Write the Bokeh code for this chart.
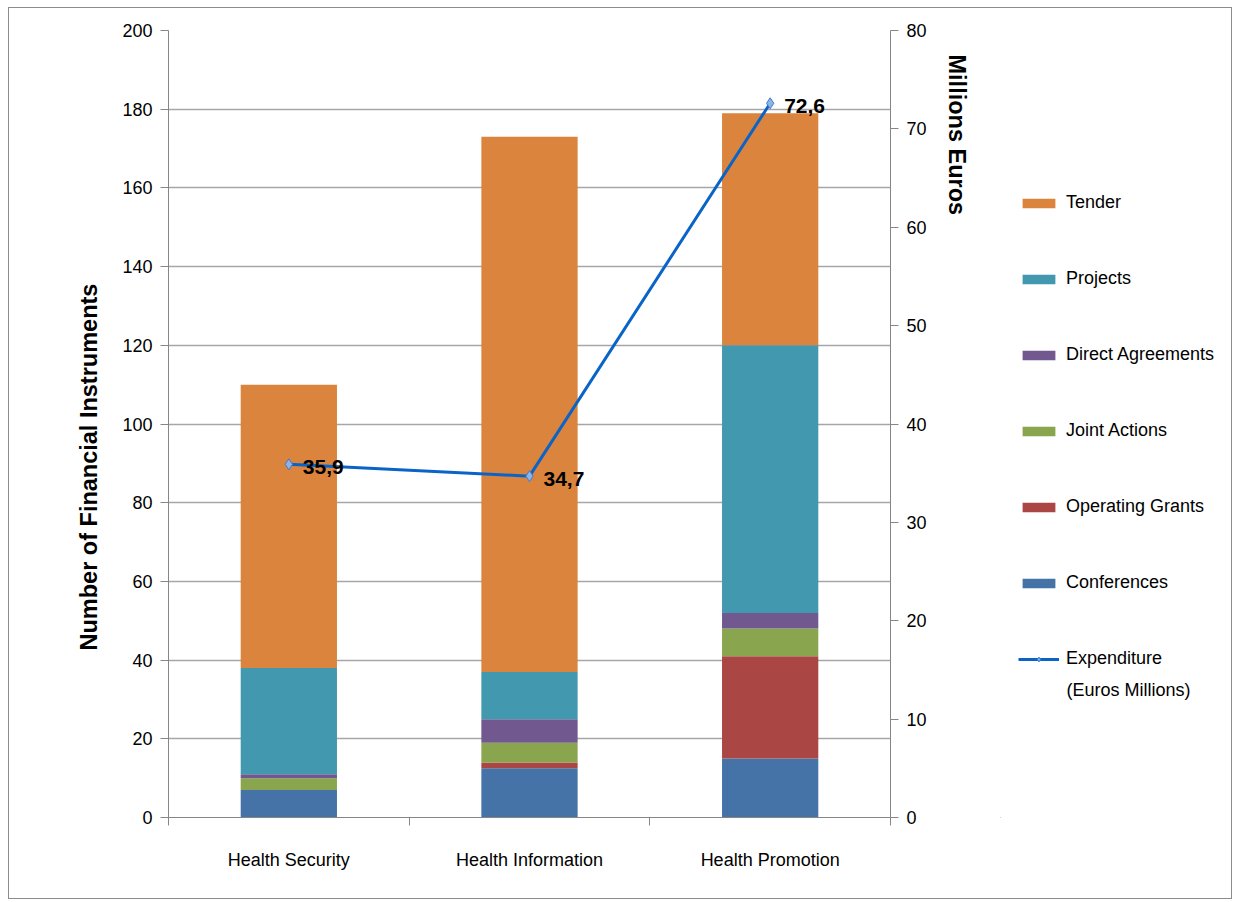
from bokeh.plotting import figure
from bokeh.models import (ColumnDataSource, Range1d, LinearAxis, FixedTicker, Legend,
                          LegendItem, Title, Label)
from bokeh.layouts import row
from bokeh.embed import file_html
from bokeh.resources import INLINE
from bokeh.core.properties import value

categories = ["Health Security", "Health Information", "Health Promotion"]
conferences = [7, 12.5, 15]
operating_grants = [0, 1.5, 26]
joint_actions = [3, 5, 7]
direct_agreements = [1, 6, 4]
projects = [27, 12, 68]
tender = [72, 136, 59]
expenditure = [35.9, 34.7, 72.6]

series_names = ["Conferences", "Operating Grants", "Joint Actions", "Direct Agreements", "Projects", "Tender"]
series_values = [conferences, operating_grants, joint_actions, direct_agreements, projects, tender]
colors = ["#4572A7", "#AA4643", "#89A54E", "#71588F", "#4198AF", "#DB843D"]
line_color = "#0A64C8"

FONT = "Liberation Sans"

xs = [i + 0.5 for i in range(len(categories))]
data = {"x": xs}
for n, v in zip(series_names, series_values):
    data[n] = v
source = ColumnDataSource(data)

p = figure(width=991, height=890, x_range=Range1d(0, len(categories)), y_range=Range1d(0, 200),
           output_backend="svg", toolbar_location=None,
           min_border_left=159, min_border_right=110, min_border_top=22, min_border_bottom=81)
p.outline_line_color = None

renderers = p.vbar_stack(series_names, x="x", width=0.4, color=colors, source=source, line_color=None)

p.extra_y_ranges = {"eur": Range1d(0, 80)}
p.line(xs, expenditure, y_range_name="eur", line_color=line_color, line_width=3)
p.scatter(xs, expenditure, y_range_name="eur", marker="diamond", size=11,
          fill_color="#8FB4E3", line_color="#3A7BD5", line_width=1)
labels = [f"{v:.1f}".replace(".", ",") for v in expenditure]
p.text(xs, expenditure, text=labels, y_range_name="eur", x_offset=14, y_offset=3,
       text_font=value(FONT), text_font_style="bold", text_font_size="21px",
       text_baseline="middle", text_color="black")

# axes
gray = "#868686"
yax = p.yaxis[0]
yax.ticker = FixedTicker(ticks=list(range(0, 201, 20)))
yax.axis_line_color = gray
yax.major_tick_line_color = gray
yax.major_tick_out = 8
yax.major_tick_in = 0
yax.minor_tick_line_color = None
yax.major_label_text_font = FONT
yax.major_label_text_font_size = "18px"
yax.major_label_text_color = "black"
yax.major_label_standoff = 8

xax = p.xaxis[0]
xax.ticker = FixedTicker(ticks=xs, minor_ticks=list(range(0, len(categories) + 1)))
xax.major_label_overrides = {x: c for x, c in zip(xs, categories)}
xax.major_tick_line_color = None
xax.minor_tick_line_color = gray
xax.minor_tick_out = 8
xax.minor_tick_in = 0
xax.axis_line_color = gray
xax.major_label_text_font = FONT
xax.major_label_text_font_size = "18px"
xax.major_label_text_color = "black"
xax.major_label_standoff = 24

rax = LinearAxis(y_range_name="eur", ticker=FixedTicker(ticks=list(range(0, 81, 10))))
rax.axis_line_color = gray
rax.major_tick_line_color = gray
rax.major_tick_out = 8
rax.major_tick_in = 0
rax.minor_tick_line_color = None
rax.major_label_text_font = FONT
rax.major_label_text_font_size = "18px"
rax.major_label_text_color = "black"
rax.major_label_standoff = 8
p.add_layout(rax, "right")

p.xgrid.grid_line_color = None
p.ygrid.grid_line_color = "#A6A6A6"
p.ygrid.grid_line_width = 1.5
p.ygrid.ticker = FixedTicker(ticks=list(range(0, 201, 20)))

# axis titles
p.add_layout(Title(text="Number of Financial Instruments", align="left", offset=167,
                   text_font=FONT, text_font_style="bold", text_font_size="23.5px",
                   text_color="black", standoff=36), "left")
p.add_layout(Title(text="Millions Euros", align="left", offset=24,
                   text_font=FONT, text_font_style="bold", text_font_size="23.5px",
                   text_color="black", standoff=28), "right")

# legend panel (separate figure so the legend is not clipped)
q = figure(width=231, height=890, x_range=Range1d(0, 1), y_range=Range1d(0, 1),
           output_backend="svg", toolbar_location=None,
           min_border_left=0, min_border_right=0, min_border_top=0, min_border_bottom=0)
q.axis.visible = False
q.grid.grid_line_color = None
q.outline_line_color = None

items = []
for n, c in reversed(list(zip(series_names, colors))):
    r = q.vbar(x=[-10], top=[-10], width=0.4, fill_color=c, line_color=None)
    items.append(LegendItem(label=n, renderers=[r]))
lr = q.line(x=[-10, -11], y=[-10, -11], line_color=line_color, line_width=3)
mr = q.scatter(x=[-10], y=[-10], marker="diamond", size=9, fill_color="#8FB4E3",
               line_color="#3A7BD5", line_width=1)
items.append(LegendItem(label="Expenditure", renderers=[lr, mr]))
legend = Legend(items=items, location=(18, 148), glyph_width=41, glyph_height=12,
                label_height=20, spacing=55, padding=0, margin=0, label_standoff=7,
                border_line_color=None, background_fill_alpha=0,
                label_text_font=FONT, label_text_font_size="18px", label_text_color="black")
q.add_layout(legend, "center")
q.add_layout(Label(x=66, y=817 - 689, x_units="screen", y_units="screen",
                   text="(Euros Millions)", text_font=FONT, text_font_size="18px",
                   text_color="black", text_baseline="middle"))

layout = row(p, q, styles={"border": "1px solid #8c8c8c", "margin-left": "8px", "margin-top": "7px"})

open("out.html", "w").write(file_html(layout, INLINE))
